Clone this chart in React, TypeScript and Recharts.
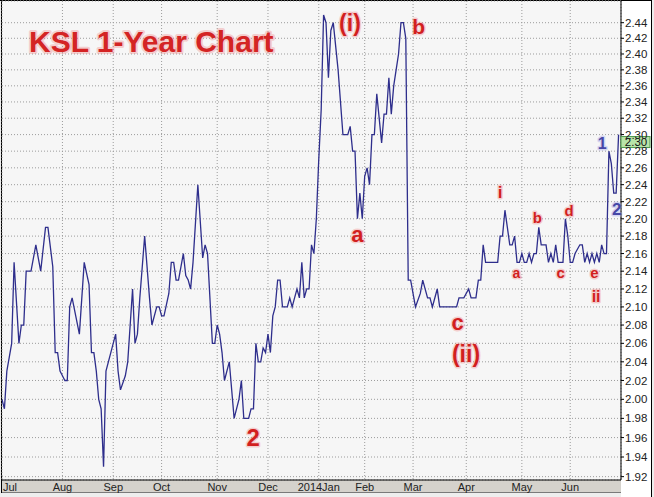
import React from 'react';
import { LineChart, Line, XAxis, YAxis, CartesianGrid, ReferenceDot } from 'recharts';

// trading-day index since early July 2013
const days = [
  0, 1, 2, 4, 5, 7, 8, 9, 10, 12, 14, 16, 18, 19, 21, 22, 23, 24, 25, 26, 27, 28, 29, 32, 34, 36, 37, 38, 39,
  40, 41, 42, 43, 45, 47, 48, 49, 51, 52, 54, 55, 56, 57, 59, 61, 62, 64, 65, 66, 67, 69, 70, 71, 72, 73, 75,
  76, 77, 78, 79, 81, 83, 84, 85, 87, 88, 89, 90, 91, 92, 94, 96, 98, 99, 100, 102, 103, 104, 105, 106, 107,
  108, 109, 110, 111, 112, 113, 114, 115, 116, 118, 119, 120, 121, 122, 123, 124, 125, 126, 127, 128, 129,
  130, 131, 132, 133, 134, 135, 136, 137, 139, 141, 142, 143, 144, 145, 146, 147, 148, 149, 150, 151, 152,
  153, 154, 155, 157, 158, 159, 160, 161, 162, 163, 164, 165, 166, 167, 168, 169, 171, 173, 174, 176, 177,
  178, 180, 181, 188, 189, 191, 193, 194, 196, 197, 198, 199, 200, 205, 206, 207, 208, 209, 210, 211, 212,
  213, 214, 215, 216, 217, 218, 219, 220, 221, 222, 223, 225, 226, 227, 228, 229, 230, 232, 233, 234, 235,
  236, 237, 239, 240, 241, 242, 243, 244, 245, 246, 247, 248, 249, 250, 251, 252, 253, 254, 255,
];

const prices = [
  2.0, 1.99, 2.03, 2.06, 2.15, 2.06, 2.08, 2.08, 2.14, 2.14, 2.17, 2.14, 2.19, 2.19, 2.145, 2.05, 2.05, 2.03,
  2.025, 2.02, 2.02, 2.1, 2.11, 2.07, 2.15, 2.125, 2.05, 2.05, 2.03,
  2.0, 1.99, 1.93, 2.03, 2.05, 2.07, 2.03, 2.01, 2.025, 2.04, 2.12, 2.06, 2.07, 2.11, 2.18, 2.11, 2.08, 2.1,
  2.1, 2.09, 2.09, 2.115, 2.15, 2.15, 2.13, 2.13, 2.16,
  2.135, 2.13, 2.12, 2.15, 2.24, 2.155, 2.17, 2.16, 2.06, 2.06, 2.08, 2.07, 2.05, 2.02, 2.04, 1.98, 2.0, 2.02,
  1.98, 1.98, 1.99, 1.99, 2.06, 2.04, 2.04,
  2.055, 2.05, 2.07, 2.05, 2.09, 2.1, 2.13, 2.13, 2.1, 2.1, 2.11, 2.1, 2.11, 2.12, 2.11, 2.15, 2.11, 2.12,
  2.12, 2.17, 2.16,
  2.2, 2.27, 2.33, 2.45, 2.44, 2.37, 2.43, 2.44, 2.38, 2.3, 2.3, 2.3, 2.31, 2.28, 2.28, 2.2, 2.23, 2.2, 2.25,
  2.26, 2.24,
  2.3, 2.3, 2.35, 2.29, 2.325, 2.325, 2.37, 2.325, 2.36, 2.38, 2.4, 2.44, 2.44, 2.42, 2.13, 2.13, 2.1, 2.115,
  2.13, 2.11, 2.11,
  2.1, 2.12, 2.1, 2.1, 2.11, 2.11, 2.12, 2.11, 2.11, 2.13, 2.13, 2.17, 2.15, 2.15, 2.18, 2.18, 2.21, 2.19,
  2.17, 2.17, 2.18,
  2.15, 2.15, 2.16, 2.15, 2.15, 2.16, 2.15, 2.16, 2.16, 2.19, 2.17, 2.17, 2.15, 2.16, 2.15, 2.17, 2.15, 2.15,
  2.2, 2.18, 2.15,
  2.15, 2.16, 2.17, 2.17, 2.15, 2.16, 2.15, 2.16, 2.15, 2.16, 2.15, 2.17, 2.16, 2.16, 2.28, 2.265, 2.23, 2.23,
  2.3,
];

const monthTickDays = [0, 25, 46, 66, 89, 110, 131, 150, 170, 192, 215, 235];
const monthLabels = ['Jul', 'Aug', 'Sep', 'Oct', 'Nov', 'Dec', '2014Jan', 'Feb', 'Mar', 'Apr', 'May', 'Jun'];

const priceTicks = [
  1.92, 1.94, 1.96, 1.98, 2.0, 2.02, 2.04, 2.06, 2.08, 2.1, 2.12, 2.14, 2.16, 2.18, 2.2, 2.22, 2.24, 2.26,
  2.28, 2.3, 2.32, 2.34, 2.36, 2.38, 2.4, 2.42, 2.44,
];

const quoteText = '2.30';
const quoteLevel = 2.291;

const chartTitle = 'KSL 1-Year Chart';

// wave-count notes (text, day, price level of baseline)
const noteTexts = ['(i)', 'b', 'a', '2', 'c', '(ii)', 'i', 'a', 'b', 'c', 'd', 'e', 'ii', '1', '2'];
const noteDays = [143.9, 172.3, 147.0, 103.9, 188.4, 191.9, 206.0, 212.7, 221.4, 231.0, 234.5, 245.0, 245.7, 248.2, 254.2];
const noteLevels = [2.429, 2.425, 2.173, 1.951, 2.075, 2.04, 2.224, 2.132, 2.195, 2.132, 2.203, 2.132, 2.1055, 2.283, 2.205];

const noteFontSizes = [23, 21, 22, 24, 22, 23, 17, 14, 15, 15, 15, 15, 16, 16, 17];
const RED = '#d21f1f';
const BLUE = '#4646a6';
const noteColors = noteTexts.map((_, i) => (i >= 13 ? BLUE : RED));

const data = days.map((d, i) => ({ day: d, price: prices[i] }));

const FONT = '"Liberation Sans", Arial, sans-serif';

const XTick = (props: any) => {
  const { x, y, payload } = props;
  const idx = monthTickDays.indexOf(payload.value);
  const first = idx === 0;
  return (
    <text
      x={first ? x + 1 : x}
      y={y}
      dy="0.71em"
      textAnchor={first ? 'start' : 'middle'}
      fontSize={11}
      fontFamily={FONT}
      fill="#222"
    >
      {monthLabels[idx]}
    </text>
  );
};

const makeNoteShape = (i: number) => (p: any) => (
  <text
    x={p.cx}
    y={p.cy}
    textAnchor="middle"
    fontSize={noteFontSizes[i]}
    fontWeight="bold"
    fontFamily={FONT}
    fill={noteColors[i]}
    stroke={i >= 13 ? 'rgba(150,150,230,0.35)' : 'rgba(240,130,130,0.35)'}
    strokeWidth={3}
    strokeLinejoin="round"
    style={{ paintOrder: 'stroke' }}
  >
    {noteTexts[i]}
  </text>
);

const quoteShape = (p: any) => (
  <g>
    <rect x={p.cx} y={p.cy - 5.5} width={29} height={11} fill="#b8e4a8" stroke="#4f9a4f" strokeWidth={1} />
    <text x={p.cx + 15} y={p.cy} dy="0.36em" textAnchor="middle" fontSize={11.5} fontFamily={FONT} fill="#111">
      {quoteText}
    </text>
  </g>
);

export default function App() {
  return (
    <div style={{ position: 'absolute', left: 0, top: 0, width: 654, height: 497, background: '#eeeeee', overflow: 'hidden' }}>
      {/* bottom axis strip */}
      <div
        style={{
          position: 'absolute',
          left: 2,
          top: 480,
          width: 619,
          height: 13,
          boxSizing: 'border-box',
          background: '#d5d2cc',
          borderBottom: '1px solid #7a7a7a',
        }}
      />
      {/* right axis panel */}
      <div
        style={{
          position: 'absolute',
          left: 621,
          top: 0,
          width: 31,
          height: 497,
          boxSizing: 'border-box',
          background: '#ffffff',
          borderRight: '1px solid #000',
        }}
      />
      <div style={{ position: 'absolute', left: 0, top: 0, width: 652, height: 1, background: '#000' }} />
      <div style={{ position: 'absolute', left: 1, top: 0, width: 1, height: 493, background: '#000' }} />
      <div style={{ position: 'absolute', left: 0, top: 0 }}>
        <LineChart width={654} height={497} data={data} margin={{ top: 1, right: 3, bottom: 0, left: 2 }}>
          <CartesianGrid
            fill="#f6f6f6"
            stroke="#9c9c9c"
            strokeDasharray="1 2"
            vertical={true}
            horizontal={true}
          />
          <XAxis
            dataKey="day"
            type="number"
            domain={[0, 256]}
            ticks={monthTickDays}
            interval={0}
            height={17}
            tickSize={0}
            tickMargin={3}
            tickLine={false}
            axisLine={{ stroke: '#000', strokeWidth: 1 }}
            tick={<XTick />}
            allowDataOverflow
          />
          <YAxis
            orientation="right"
            scale="log"
            domain={[1.9166, 2.4681]}
            ticks={priceTicks}
            interval={0}
            width={30}
            tickSize={3}
            tickMargin={1}
            tickLine={{ stroke: '#000' }}
            axisLine={{ stroke: '#000', strokeWidth: 1 }}
            tick={{ fill: '#222', fontSize: 11.5, fontFamily: FONT }}
            tickFormatter={(v: number) => v.toFixed(2)}
            allowDataOverflow
          />
          <Line
            type="linear"
            dataKey="price"
            stroke="#2e2e8c"
            strokeWidth={1.3}
            dot={false}
            isAnimationActive={false}
          />
          {noteTexts.map((t, i) => (
            <ReferenceDot
              key={'n' + i}
              x={noteDays[i]}
              y={noteLevels[i]}
              r={0}
              ifOverflow="visible"
              shape={makeNoteShape(i)}
            />
          ))}
          <ReferenceDot x={256} y={quoteLevel} r={0} ifOverflow="visible" shape={quoteShape} />
        </LineChart>
      </div>
      <svg width={654} height={497} style={{ position: 'absolute', left: 0, top: 0, pointerEvents: 'none' }}>
        <text
          x={29}
          y={52}
          fontSize={30}
          fontWeight="bold"
          fontFamily={FONT}
          fill="#d42424"
          stroke="rgba(240,130,130,0.35)"
          strokeWidth={4}
          strokeLinejoin="round"
          style={{ paintOrder: 'stroke' }}
        >
          {chartTitle}
        </text>
      </svg>
    </div>
  );
}
